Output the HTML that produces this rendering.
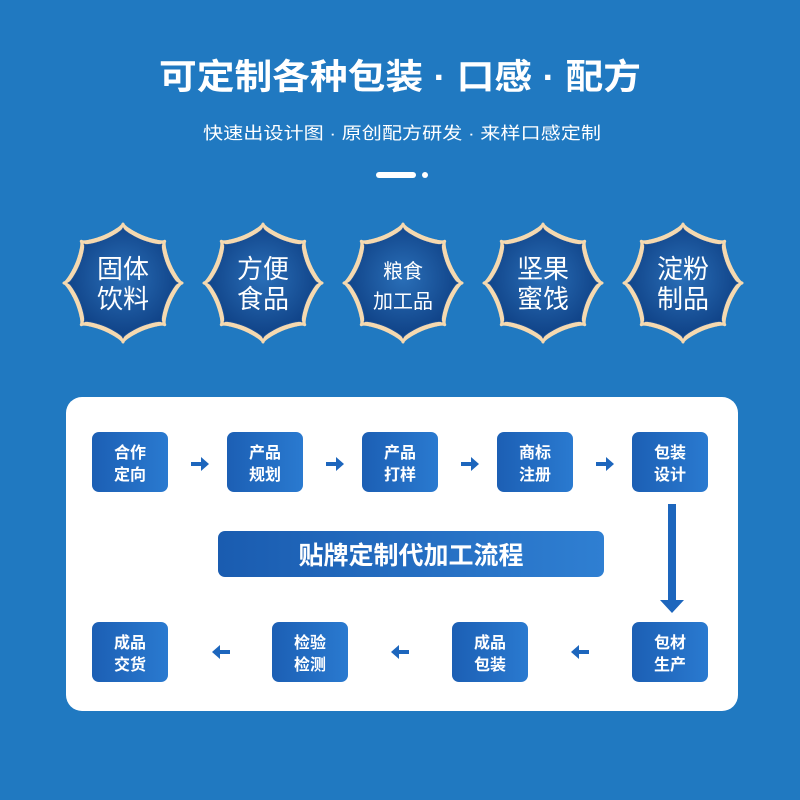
<!DOCTYPE html>
<html><head><meta charset="utf-8"><style>
html,body{margin:0;padding:0;background:#2079c1;}
svg{display:block}
text{font-family:"Liberation Sans","Noto Sans CJK SC",sans-serif;}
</style></head><body>
<svg id="s" width="800" height="800" viewBox="0 0 800 800" xmlns="http://www.w3.org/2000/svg">
<defs>
<radialGradient id="bg" cx="0.5" cy="0.45" r="0.6">
<stop offset="0" stop-color="#2a6fb8"/><stop offset="1" stop-color="#0c3c80"/></radialGradient>
<linearGradient id="bx" x1="0" y1="0" x2="1" y2="0">
<stop offset="0" stop-color="#1c5fb4"/><stop offset="1" stop-color="#2a7ad0"/></linearGradient>
<linearGradient id="bn" x1="0" y1="0" x2="1" y2="0">
<stop offset="0" stop-color="#1a5cb0"/><stop offset="1" stop-color="#2f7fd2"/></linearGradient>
</defs>
<rect width="800" height="800" fill="#2079c1"/>
<text x="400" y="89" fill="#fff" font-size="35" font-weight="bold" text-anchor="middle" textLength="482" lengthAdjust="spacingAndGlyphs">可定制各种包装 · 口感 · 配方</text>
<text x="402" y="139" fill="#fff" font-size="17" text-anchor="middle" textLength="398" lengthAdjust="spacingAndGlyphs">快速出设计图 · 原创配方研发 · 来样口感定制</text>
<rect x="376" y="172" width="40" height="6" rx="3" fill="#fff"/>
<circle cx="425" cy="175" r="3" fill="#fff"/>
<g id="badges"></g>
<rect x="66" y="397" width="672" height="314" rx="16" fill="#fff"/>
<g fill="url(#bx)">
<rect x="92" y="432" width="76" height="60" rx="7"/>
<rect x="227" y="432" width="76" height="60" rx="7"/>
<rect x="362" y="432" width="76" height="60" rx="7"/>
<rect x="497" y="432" width="76" height="60" rx="7"/>
<rect x="632" y="432" width="76" height="60" rx="7"/>
<rect x="92" y="622" width="76" height="60" rx="7"/>
<rect x="272" y="622" width="76" height="60" rx="7"/>
<rect x="452" y="622" width="76" height="60" rx="7"/>
<rect x="632" y="622" width="76" height="60" rx="7"/>
</g>
<rect x="218" y="531" width="386" height="46" rx="7" fill="url(#bn)"/>
<text x="411" y="564" fill="#fff" font-size="25" font-weight="bold" text-anchor="middle">贴牌定制代加工流程</text>
<g fill="#fff" font-size="16" font-weight="bold" text-anchor="middle">
<text x="130" y="458">合作</text><text x="130" y="480">定向</text>
<text x="265" y="458">产品</text><text x="265" y="480">规划</text>
<text x="400" y="458">产品</text><text x="400" y="480">打样</text>
<text x="535" y="458">商标</text><text x="535" y="480">注册</text>
<text x="670" y="458">包装</text><text x="670" y="480">设计</text>
<text x="130" y="648">成品</text><text x="130" y="670">交货</text>
<text x="310" y="648">检验</text><text x="310" y="670">检测</text>
<text x="490" y="648">成品</text><text x="490" y="670">包装</text>
<text x="670" y="648">包材</text><text x="670" y="670">生产</text>
</g>
<g fill="#1d66bd">
<path d="M191,462h10v-5l8,7l-8,7v-5h-10z"/>
<path d="M326,462h10v-5l8,7l-8,7v-5h-10z"/>
<path d="M461,462h10v-5l8,7l-8,7v-5h-10z"/>
<path d="M596,462h10v-5l8,7l-8,7v-5h-10z"/>
<path d="M230,650h-10v-5l-8,7l8,7v-5h10z"/>
<path d="M409,650h-10v-5l-8,7l8,7v-5h10z"/>
<path d="M589,650h-10v-5l-8,7l8,7v-5h10z"/>
<path d="M668,504h8v96h8l-12,13l-12,-13h8z"/>
</g>
</svg>
<script>
(function(){
var items=[["固体","饮料"],["方便","食品"],["粮食","加工品"],["坚果","蜜饯"],["淀粉","制品"]];
var g=document.getElementById('badges'),h="";
function star(cx,cy,R,a){var d="";for(var i=0;i<=720;i++){var t=i/2*Math.PI/180;var s=Math.abs(Math.sin(4*t));var r=R*(1-a*Math.pow(s,0.6));var x=cx+r*Math.sin(t),y=cy-r*Math.cos(t);d+=(i?"L":"M")+x.toFixed(1)+","+y.toFixed(1);}return d+"Z";}
for(var k=0;k<5;k++){var cx=123+140*k,cy=283;
h+='<path d="'+star(cx,cy,59,0.15)+'" fill="#f5d9b0" stroke="#f5d9b0" stroke-width="3" stroke-linejoin="round"/>';
h+='<path d="'+star(cx,cy,55,0.15)+'" fill="url(#bg)" stroke="#1a4f95" stroke-width="1" stroke-linejoin="round"/>';
var it=items[k],fs=it[1].length>2?20:26;
h+='<text x="'+cx+'" y="'+(cy-5)+'" fill="#fff" font-size="'+(fs)+'" text-anchor="middle">'+it[0]+'</text>';
h+='<text x="'+cx+'" y="'+(cy+25)+'" fill="#fff" font-size="'+fs+'" text-anchor="middle">'+it[1]+'</text>';}
g.innerHTML=h;})();
</script>
</body></html>
